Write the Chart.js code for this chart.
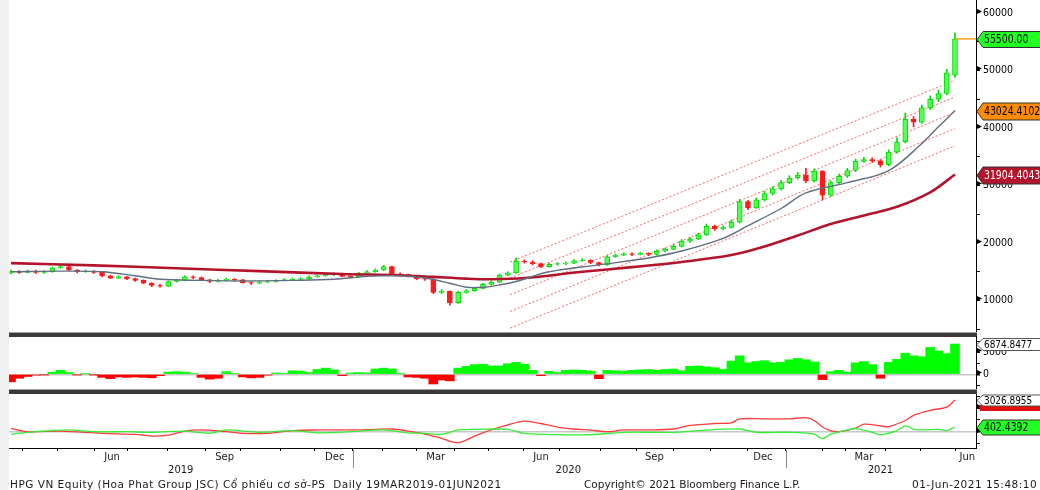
<!DOCTYPE html>
<html>
<head>
<meta charset="utf-8">
<script src="https://cdn.jsdelivr.net/npm/chart.js@4/dist/chart.umd.min.js"></script>
<style>
  body { margin: 0; width: 1040px; height: 490px; overflow: hidden; background: #fff; position: relative;
         font-family: "DejaVu Sans", sans-serif; }
  canvas { position: absolute; left: 0; }
  #strip { position: absolute; left: 0; top: 0; width: 9px; height: 490px; background: #f0f0f0; }
  .sep { position: absolute; left: 9px; width: 968px; height: 5px; background: linear-gradient(#a0a0a0 0, #a0a0a0 1px, #3a3a3a 1px); }
  .foot { position: absolute; top: 478px; font-size: 10.5px; line-height: 13px; color: #1a1a1a; white-space: nowrap; }
</style>
</head>
<body>
<div id="strip"></div>
<canvas id="price" width="1040" height="332" style="top:0"></canvas>
<div class="sep" style="top:332px"></div>
<canvas id="macd" width="1040" height="53" style="top:336px"></canvas>
<div class="sep" style="top:389px"></div>
<canvas id="osc" width="1040" height="96" style="top:394px"></canvas>
<div class="foot" style="left:10px;letter-spacing:0.5px">HPG VN Equity (Hoa Phat Group JSC) Cổ phiếu cơ sở-PS&nbsp; Daily 19MAR2019-01JUN2021</div>
<div class="foot" style="left:584px">Copyright© 2021 Bloomberg Finance L.P.</div>
<div class="foot" style="left:912px;letter-spacing:0.5px">01-Jun-2021 15:48:10</div>
<script>
// weekly candles, week 0 = 19 Mar 2019, week 114 = 01 Jun 2021
const opens  = [14800,15000,14900,15100,14900,15000,15700,15900,15300,15000, 15100,14900,14300,13900,14100,13800,13500,13000,12600,12500,
                13300,13500,14100,14000,13600,13300,13500,13700,13600,13100, 13000,13200,13300,13500,13600,13700,13800,14100,14300,14500,
                14600,14200,14100,14700,15000,15300,15900,14600,14500,14300, 13800,13700,11400,11600,9600,11400,11700,12100,12800,13200,
                14400,14800,16800,16700,16400,15900,16300,16400,16500,16900, 17000,16600,16200,17600,17900,18100,18000,18200,18000,18600,
                18900,19400,20300,20700,21400,22900,22500,22700,23600,27200, 26100,27500,28600,29400,30500,31300,31800,30800,32500,28300,
                30500,31600,32600,34200,34500,34300,33600,35800,37600,41500, 41000,43500,45000,46000,49200];
const closes = [15000,14900,15100,14900,15000,15700,15900,15300,15000,15100, 14900,14300,13900,14100,13800,13500,13000,12600,12500,13300,
                13500,14100,14000,13600,13300,13500,13700,13600,13100,13000, 13200,13300,13500,13600,13700,13800,14100,14300,14500,14600,
                14200,14100,14700,15000,15300,15900,14600,14500,14300,13800, 13700,11400,11600,9600,11400,11700,12100,12800,13200,14400,
                14800,16800,16700,16400,15900,16300,16400,16500,16900,17000, 16600,16200,17600,17900,18100,18000,18200,18000,18600,18900,
                19400,20300,20700,21400,22900,22500,22700,23600,27200,26100, 27500,28600,29400,30500,31300,31800,30800,32500,28300,30500,
                31600,32600,34200,34500,34300,33600,35800,37600,41500,41000, 43500,45000,46000,49600,55500];
const highs  = [15300,15200,15300,15300,15200,15800,16100,16000,15400,15300, 15200,15000,14400,14300,14200,13900,13600,13100,12800,13400,
                13700,14300,14300,14100,13700,13700,13900,13800,13700,13200, 13400,13500,13600,13800,13900,14000,14300,14500,14700,14800,
                14700,14300,14900,15200,15500,16100,16000,14800,14600,14400, 14000,13800,11900,11700,11600,11900,12300,13000,13400,14600,
                15000,17400,17100,16900,16500,16500,16600,16700,17100,17300, 17100,16700,17800,18100,18300,18300,18400,18300,18800,19100,
                19700,20600,21000,21700,23300,23100,23000,24000,27600,27400, 27800,29000,29800,30900,31700,32300,33000,32900,32600,30800,
                32000,33000,34600,34900,34800,34500,36200,38300,42600,42000, 44000,45600,46600,50200,56500];
const lows   = [14600,14700,14800,14700,14700,14900,15600,15200,14800,14900, 14700,14100,13800,13800,13600,13300,12900,12400,12300,12400,
                13200,13400,13800,13500,13100,13200,13400,13400,13000,12800, 12900,13100,13200,13400,13500,13600,13700,14000,14200,14300,
                14100,13900,14000,14600,14900,15200,14400,14300,14100,13600, 13500,11200,11200,9200,9500,11300,11600,12000,12700,13100,
                14300,14700,16500,16200,15700,15800,16100,16200,16400,16800, 16400,16000,16100,17500,17800,17800,17900,17800,17900,18500,
                18800,19300,20100,20600,21300,22200,22300,22600,23500,25800, 26000,27300,28400,29200,30300,31100,30500,30600,27500,28100,
                30300,31400,32400,34000,34000,33200,33400,35600,37400,40200, 40800,43200,44600,45800,48800];

// moving averages, read at selected weeks
const ma50Weeks  = [0,6,11,15,18,23,28,34,39,43,47,50,53,55,57,59,61,65,71,77,81,86,89,93,96,101,106,110,112,114];
const ma50       = [15000,15100,15000,14300,13700,13500,13400,13500,13700,14200,14300,13900,13000,12300,12300,12700,13300,15000,16200,17400,
                    18600,20800,23000,26000,28700,30500,32600,37300,40200,43024.4102];
const ma200Weeks = [0,10,20,30,40,47,51,55,58,62,69,75,81,87,91,95,99,103,107,111,114];
const ma200      = [16500,16100,15600,15100,14600,14400,14100,13800,13700,13900,15000,15800,16700,17900,19400,21300,23300,24800,26300,28800,31904.4043];

// regression channel (5 dotted lines)
const channelWeeks = [60.3, 114];
const channelStart = [16700, 13900, 11000, 8100, 5200];
const channelEnd   = [48300, 45400, 42700, 39900, 36900];

// MACD histogram, weekly
const macd = [-1700,-900,-500,-200,-100,500,900,400,-100,100, -100,-700,-1000,-600,-700,-600,-700,-800,-300,500,
              600,500,200,-700,-1100,-900,600,200,-600,-800, -700,-200,300,200,800,700,400,1100,1400,1000,
              -300,300,400,300,1200,1400,1200,100,-600,-700, -900,-2200,-1300,-1500,1400,1800,2200,2300,1900,1900,
              2400,2700,2300,900,-300,700,400,900,1000,900, 700,-1000,900,800,700,900,1000,1100,900,1100,
              1200,800,1800,1900,1700,1500,1100,3000,4200,2600, 2900,3100,2600,2700,3300,3600,3300,2800,-1200,600,
              900,500,2600,2900,2200,-900,2700,3400,4800,4200, 4000,6100,5300,4700,6874.8477];

// lower panel lines
const redWeeks = [0,2,6,11,15,17,19,21,23,26,28,31,34,37,41,44,46,48,50,52,54,56,58,60,62,64,66,68,70,72,74,77,80,82,85,87,88,91,94,96,97,98,99,100,102,103,105,106,108,109,111,113,114];
const redLine  = [290,0,50,-140,-230,-370,-290,50,150,0,-140,-140,100,150,150,200,230,50,-200,-570,-940,-370,150,580,900,700,400,230,140,0,
                  150,150,230,540,700,760,1100,1100,1100,1200,960,400,100,0,300,650,500,430,960,1390,1820,2100,2700];
const greenWeeks = [0,2,5,7,10,14,17,21,24,26,30,34,37,41,45,48,50,52,54,56,60,62,66,70,74,80,83,88,90,94,97,98,99,101,102,104,105,107,108,109,110,112,113,114];
const greenLine  = [-220,-50,100,150,0,0,-50,50,-140,150,-50,100,-100,0,150,-100,-140,-230,150,200,200,-150,-250,-250,-50,-50,100,230,-50,-50,
                    -200,-600,-200,150,270,-50,-250,100,500,230,150,200,100,402.4392];

// axis ticks
const priceTicks = [5000,10000,15000,20000,25000,30000,35000,40000,45000,50000,55000,60000];
const macdTicks  = [-2500,0,2500,5000,7500];
const oscTicks   = [-1000,0,1000,2000,3000];
const monthTicks = [1.45,5.56,10.14,14.13,18.96,23.43,27.66,32.49,36.71,41.30,44.81,49.03,53.62,57.61,61.84,66.30,71.14,75.60,79.95,84.42,88.89,93.48,97.95,100.72,105.56,109.78,114.01];
const monthLabels = ['Jun','Sep','Dec','Mar','Jun','Sep','Dec','Mar','Jun'];
const monthLabelPos = [12.2,25.8,39.1,51.3,64.0,77.7,90.8,103.0,115.5];
const yearLabels = ['2019','2020','2021'];
const yearLabelPos = [20.5,67.3,105.0];
const yearSeps = [41.30, 93.55];
const xMin = -0.24, xMax = 116.54;

const FONT = '"DejaVu Sans Condensed", "DejaVu Sans", sans-serif';
Chart.defaults.font.family = FONT;
Chart.defaults.color = '#000';
Chart.defaults.animation = false;
Chart.defaults.plugins.legend.display = false;
Chart.defaults.plugins.tooltip.enabled = false;

const UP = '#55ff55', UP_EDGE = '#00dd00', DOWN = '#ff1a1a';
const weeks = closes.map((c, i) => i);
const pts = (xs, ys) => xs.map((x, i) => ({ x: x, y: ys[i] }));
const noPad = s => { s.paddingTop = 0; s.paddingBottom = 0; s.paddingLeft = 0; s.paddingRight = 0; };

const xScale = () => ({ type: 'linear', min: xMin, max: xMax, offset: false, display: false, grid: { offset: false } });
function yScale(min, max, tickValues, showLabel) {
  return {
    type: 'linear', position: 'right', min: min, max: max,
    afterFit(s) { s.width = 64; noPad(s); },
    afterBuildTicks(s) { s.ticks = tickValues.map(v => ({ value: v })); },
    ticks: { autoSkip: false, padding: 3, font: { size: 10.5 }, color: '#000',
             callback: v => showLabel(v) ? String(v) : '' },
    grid: { drawOnChartArea: true, color: ctx => ctx.tick && ctx.tick.value === 0 && min < 0 ? '#c8c8c8' : 'rgba(0,0,0,0)',
            lineWidth: ctx => ctx.tick && ctx.tick.value === 0 ? 1.5 : 1, tickLength: 4, tickColor: '#000' },
    border: { display: true, color: '#000', width: 1 }
  };
}

// right-hand decorations: flag marks on labelled ticks and last-value boxes
const sideMarks = {
  id: 'sideMarks',
  afterDraw(chart, args, opts) {
    const ctx = chart.ctx, ys = chart.scales.y, right = chart.chartArea.right;
    ctx.save();
    ys.ticks.forEach(t => {
      if (!t.label) return;
      const y = Math.round(ys.getPixelForValue(t.value)) + 0.5;
      ctx.beginPath(); ctx.moveTo(right, y - 5); ctx.lineTo(right + 6, y - 2); ctx.lineTo(right, y + 1); ctx.closePath();
      ctx.fillStyle = '#000'; ctx.fill();
    });
    (opts.boxes || []).forEach(b => {
      const y = Math.round(ys.getPixelForValue(b.value)) + 0.5, h = b.h;
      if (b.bar) { ctx.fillStyle = b.bar; ctx.fillRect(right + 4, y + h / 2 - 1, 64, 6); }
      ctx.beginPath();
      ctx.moveTo(right + 1, y); ctx.lineTo(right + 7, y - h / 2); ctx.lineTo(chart.width + 2, y - h / 2);
      ctx.lineTo(chart.width + 2, y + h / 2); ctx.lineTo(right + 7, y + h / 2); ctx.closePath();
      ctx.fillStyle = b.bg; ctx.fill();
      ctx.strokeStyle = b.edge || '#333'; ctx.lineWidth = 1; ctx.stroke();
      ctx.fillStyle = b.fg; ctx.font = b.size + 'px ' + FONT; ctx.textBaseline = 'middle'; ctx.textAlign = 'left';
      ctx.translate(right + 8, y + 1); ctx.scale(0.9, 1);
      ctx.fillText(b.text, 0, 0);
      ctx.setTransform(1, 0, 0, 1, 0, 0);
    });
    ctx.restore();
  }
};

// month / year captions under the bottom panel
const timeLabels = {
  id: 'timeLabels',
  afterDraw(chart) {
    const ctx = chart.ctx, xs = chart.scales.x, bottom = chart.chartArea.bottom;
    ctx.save();
    ctx.fillStyle = '#1a1a1a'; ctx.font = '10px "DejaVu Sans", sans-serif'; ctx.textAlign = 'center'; ctx.textBaseline = 'middle';
    monthLabels.forEach((m, i) => ctx.fillText(m, xs.getPixelForValue(monthLabelPos[i]), bottom + 9));
    yearLabels.forEach((m, i) => ctx.fillText(m, xs.getPixelForValue(yearLabelPos[i]), bottom + 22));
    ctx.strokeStyle = '#8a8a8a'; ctx.lineWidth = 1;
    yearSeps.forEach(p => {
      const x = Math.round(xs.getPixelForValue(p)) + 0.5;
      ctx.beginPath(); ctx.moveTo(x, bottom + 2); ctx.lineTo(x, bottom + 20); ctx.stroke();
    });
    ctx.restore();
  }
};

const last = closes.length - 1;

// ---------- price panel ----------
const channelSets = channelStart.map((s, k) => ({
  type: 'line', data: pts(channelWeeks, [s, channelEnd[k]]), borderColor: 'rgba(255,70,70,0.85)',
  borderWidth: 1, borderDash: [2, 2], pointRadius: 0, order: 6
}));
new Chart(document.getElementById('price'), {
  type: 'bar',
  data: {
    datasets: [
      ...channelSets,
      { data: weeks.map(i => ({ x: i, y: [lows[i], highs[i]] })), backgroundColor: weeks.map(i => closes[i] >= opens[i] ? UP_EDGE : DOWN),
        barThickness: 1, grouped: false, order: 5 },
      { data: weeks.map(i => ({ x: i, y: [opens[i], closes[i]] })), backgroundColor: weeks.map(i => closes[i] >= opens[i] ? UP : DOWN),
        borderColor: weeks.map(i => closes[i] >= opens[i] ? UP_EDGE : DOWN), borderWidth: 1, borderSkipped: false,
        barThickness: 5, grouped: false, order: 4 },
      { type: 'line', data: pts(ma200Weeks, ma200), borderColor: '#b3142c', borderWidth: 2.6, pointRadius: 0, tension: 0.35, order: 3 },
      { type: 'line', data: pts(ma50Weeks, ma50), borderColor: '#5f6e80', borderWidth: 1.4, pointRadius: 0, tension: 0.35, order: 2 },
      { type: 'line', data: pts([last, xMax], [closes[last], closes[last]]), borderColor: '#ffa020', borderWidth: 1.5, pointRadius: 0, order: 1 }
    ]
  },
  options: {
    responsive: false, devicePixelRatio: 1,
    layout: { padding: { left: 9, top: 0, bottom: 0, right: 0 } },
    scales: { x: xScale(), y: yScale(4520, 62260, priceTicks, v => v % 10000 === 0) },
    plugins: {
      sideMarks: {
        boxes: [
          { value: closes[last], text: '55500.00', bg: '#22ff22', fg: '#000', h: 16, size: 11.5 },
          { value: ma50[ma50.length - 1], text: '43024.4102', bg: '#ff8c00', fg: '#000', h: 17, size: 11.5 },
          { value: ma200[ma200.length - 1], text: '31904.4043', bg: '#b3142c', fg: '#fff', h: 17, size: 11.5 }
        ]
      }
    }
  },
  plugins: [sideMarks]
});

// ---------- MACD histogram ----------
new Chart(document.getElementById('macd'), {
  type: 'bar',
  data: {
    datasets: [{ data: pts(weeks, macd), backgroundColor: macd.map(v => v >= 0 ? '#00ff00' : '#ff0000'),
                 barThickness: 9, grouped: false }]
  },
  options: {
    responsive: false, devicePixelRatio: 1,
    layout: { padding: { left: 9, top: 0, bottom: 0, right: 0 } },
    scales: { x: xScale(), y: yScale(-3340, 8700, macdTicks, v => v % 5000 === 0) },
    plugins: {
      sideMarks: {
        boxes: [{ value: macd[last], text: '6874.8477', bg: '#fff', fg: '#000', h: 12, edge: '#555', size: 11 }]
      }
    }
  },
  plugins: [sideMarks]
});

// ---------- lower oscillator panel ----------
new Chart(document.getElementById('osc'), {
  type: 'line',
  data: {
    datasets: [
      { data: pts(greenWeeks, greenLine), borderColor: '#33ee33', borderWidth: 1.3, pointRadius: 0, tension: 0.3 },
      { data: pts(redWeeks, redLine), borderColor: '#ff3a3a', borderWidth: 1.3, pointRadius: 0, tension: 0.3 }
    ]
  },
  options: {
    responsive: false, devicePixelRatio: 1,
    layout: { padding: { left: 9, top: 0, bottom: 0, right: 0 } },
    scales: {
      x: { type: 'linear', min: xMin, max: xMax, offset: false, display: true,
           afterFit(s) { s.height = 42; noPad(s); },
           afterBuildTicks(s) { s.ticks = monthTicks.map(v => ({ value: v })); },
           ticks: { display: false },
           grid: { drawOnChartArea: false, tickLength: 3, tickColor: '#000', offset: false },
           border: { display: true, color: '#000', width: 1 } },
      y: yScale(-1393, 3222, oscTicks, v => v === 2000 || v === 0)
    },
    plugins: {
      sideMarks: {
        boxes: [
          { value: redLine[redLine.length - 1], text: '3026.8955', bg: '#fff', fg: '#000', h: 11, edge: '#555', bar: '#e01010', size: 11 },
          { value: greenLine[greenLine.length - 1], text: '402.4392', bg: '#22ff22', fg: '#000', h: 15, size: 11.5 }
        ]
      }
    }
  },
  plugins: [sideMarks, timeLabels]
});
</script>
</body>
</html>
